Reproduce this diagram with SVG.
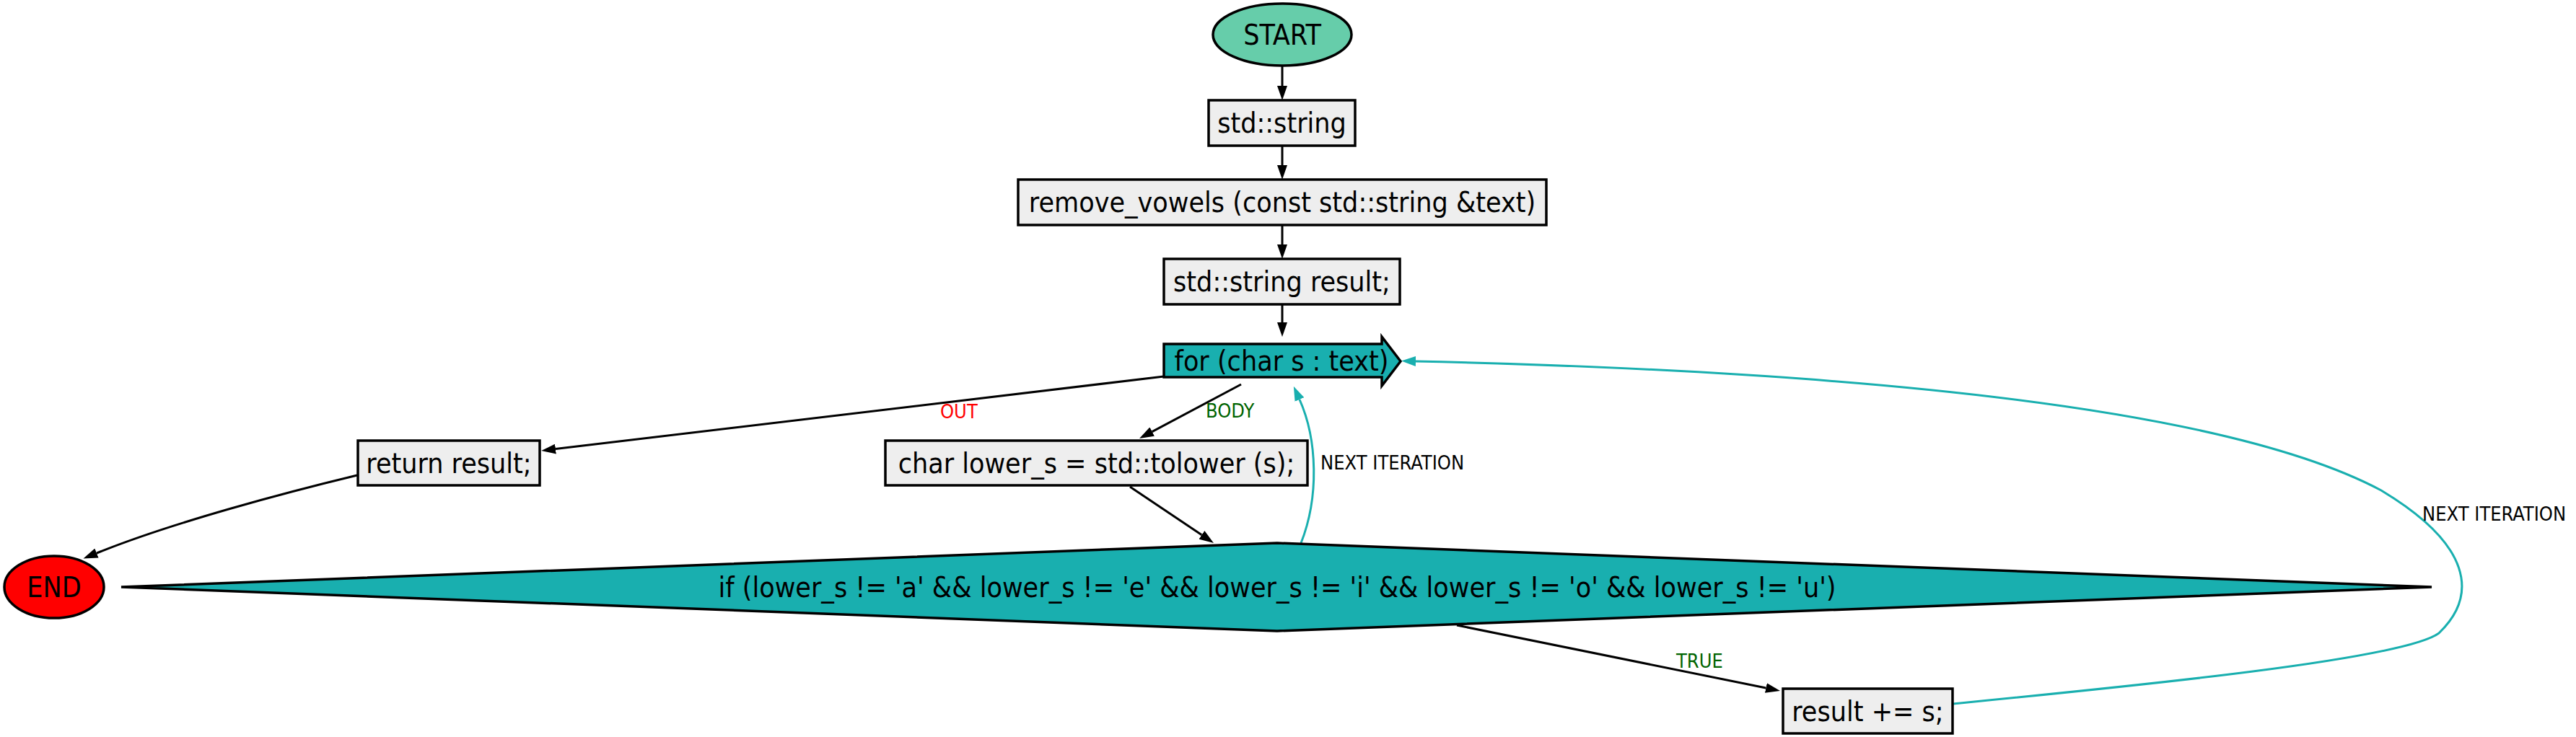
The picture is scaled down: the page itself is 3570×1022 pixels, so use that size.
<svg xmlns="http://www.w3.org/2000/svg" width="3570" height="1022" viewBox="0 0 3570 1022">
<style>
  .node { stroke: #000000; stroke-width: 3.5; }
  .box { fill: #eeeeee; }
  .teal { fill: #19afaf; }
  .nt { font-family: "DejaVu Sans Condensed", "DejaVu Sans", sans-serif; font-stretch: condensed; font-size: 39px; fill: #000000; text-anchor: middle; }
  .lbl { font-family: "DejaVu Sans Condensed", "DejaVu Sans", sans-serif; font-stretch: condensed; font-size: 27px; }
  .e { fill: none; stroke: #000000; stroke-width: 3; }
  .et { fill: none; stroke: #19afaf; stroke-width: 3; }
</style>
<defs>
  <marker id="ah" viewBox="0 0 20 14" markerWidth="20" markerHeight="14" refX="0" refY="7" orient="auto" markerUnits="userSpaceOnUse">
    <path d="M0,0 L20,7 L0,14 Z" fill="#000000"/>
  </marker>
  <marker id="aht" viewBox="0 0 20 14" markerWidth="20" markerHeight="14" refX="0" refY="7" orient="auto" markerUnits="userSpaceOnUse">
    <path d="M0,0 L20,7 L0,14 Z" fill="#19afaf"/>
  </marker>
</defs>
<rect x="0" y="0" width="3570" height="1022" fill="#ffffff"/>

<g id="connectors">
  <path class="e" d="M1777,91 L1777,119" marker-end="url(#ah)"/>
  <path class="e" d="M1777,202 L1777,229" marker-end="url(#ah)"/>
  <path class="e" d="M1777,312 L1777,339" marker-end="url(#ah)"/>
  <path class="e" d="M1777,422 L1777,447" marker-end="url(#ah)"/>
  <path class="e" d="M1613,522 L770,622.6" marker-end="url(#ah)"/>
  <text class="lbl" x="1303" y="580" fill="#ff0000">OUT</text>
  <path class="e" d="M1720,533 L1596.7,598.6" marker-end="url(#ah)"/>
  <text class="lbl" x="1671" y="579" fill="#006400">BODY</text>
  <path class="e" d="M1566,675 L1665.4,741.8" marker-end="url(#ah)"/>
  <path class="et" d="M1803,753 C1828,690 1826,610 1801,554" marker-end="url(#aht)"/>
  <text class="lbl" x="1830" y="651" fill="#000000">NEXT ITERATION</text>
  <path class="e" d="M2019,867 L2447.4,954" marker-end="url(#ah)"/>
  <text class="lbl" x="2323" y="926" fill="#006400">TRUE</text>
  <path class="et" d="M2706,976 C2950,952 3330,915 3380,878 C3435,825 3425,755 3300,680 C3150,600 2800,520 1962,501" marker-end="url(#aht)"/>
  <text class="lbl" x="3357" y="722" fill="#000000">NEXT ITERATION</text>
  <path class="e" d="M495,659 C400,682 240,724 134,767" marker-end="url(#ah)"/>
</g>

<g id="start">
  <ellipse class="node" cx="1777" cy="48" rx="96" ry="43" fill="#66cdaa"/>
  <text class="nt" x="1777" y="61.5">START</text>
</g>
<g id="decl_string">
  <rect class="node box" x="1675" y="139" width="203" height="63"/>
  <text class="nt" x="1776.5" y="184">std::string</text>
</g>
<g id="func">
  <rect class="node box" x="1411" y="249" width="732" height="63"/>
  <text class="nt" x="1777" y="294">remove_vowels (const std::string &amp;text)</text>
</g>
<g id="decl_result">
  <rect class="node box" x="1613" y="359" width="327" height="63"/>
  <text class="nt" x="1776.5" y="404">std::string result;</text>
</g>
<g id="for_loop">
  <polygon class="node teal" points="1613,477 1915,477 1915,467 1941,501 1915,535 1915,523 1613,523"/>
  <text class="nt" x="1776" y="514">for (char s : text)</text>
</g>
<g id="return">
  <rect class="node box" x="496" y="611" width="252" height="62"/>
  <text class="nt" x="622" y="655.5">return result;</text>
</g>
<g id="lower">
  <rect class="node box" x="1227" y="611" width="585" height="62"/>
  <text class="nt" x="1519.5" y="655.5">char lower_s = std::tolower (s);</text>
</g>
<g id="end">
  <ellipse class="node" cx="75" cy="814" rx="69" ry="43" fill="#ff0000"/>
  <text class="nt" x="75" y="827.5">END</text>
</g>
<g id="if_cond">
  <polygon class="node teal" points="168,814 1770,753 3370,814 1770,875"/>
  <text class="nt" x="1770" y="827.5">if (lower_s != 'a' &amp;&amp; lower_s != 'e' &amp;&amp; lower_s != 'i' &amp;&amp; lower_s != 'o' &amp;&amp; lower_s != 'u')</text>
</g>
<g id="append">
  <rect class="node box" x="2471" y="955" width="235" height="62"/>
  <text class="nt" x="2588.5" y="999.5">result += s;</text>
</g>
</svg>
